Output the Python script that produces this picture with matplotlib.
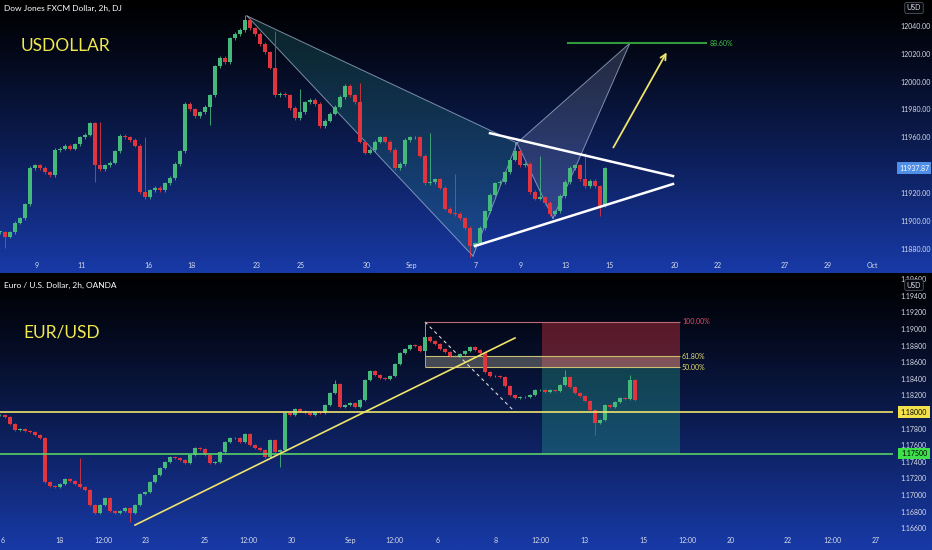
import numpy as np
import matplotlib.pyplot as plt
from matplotlib import transforms
from matplotlib.patches import Polygon, Rectangle

plt.rcParams['font.family'] = ['Lato', 'DejaVu Sans']

W, H = 932, 550

# ---------------- Dow Jones FXCM Dollar (2h, one candle = 2 bars)
dj_close = [11892, 11889, 11892, 11899, 11902, 11912, 11938, 11940, 11938, 11935,
            11933, 11951, 11952, 11954, 11952, 11955, 11960, 11962, 11970, 11940,
            11937, 11940, 11942, 11950, 11961, 11960, 11958, 11954, 11921, 11917,
            11922, 11924, 11922, 11927, 11931, 11941, 11950, 11984, 11980, 11975,
            11978, 11982, 11990, 12011, 12017, 12014, 12031, 12034, 12037, 12044,
            12038, 12034, 12027, 12021, 12010, 11990, 11991, 11990, 11981, 11974,
            11978, 11985, 11987, 11984, 11968, 11972, 11977, 11982, 11989, 11997,
            11990, 11985, 11957, 11949, 11951, 11957, 11960, 11957, 11951, 11938,
            11941, 11958, 11960, 11960, 11947, 11927, 11928, 11930, 11924, 11909,
            11906, 11905, 11902, 11895, 11882, 11884, 11895, 11907, 11919, 11927,
            11928, 11935, 11944, 11950, 11940, 11941, 11921, 11916, 11917, 11913,
            11905, 11907, 11918, 11928, 11938, 11940, 11930, 11925, 11929, 11925,
            11911, 11937.87]
dj_high_spikes = {20: 11971, 29: 11960, 49: 12048, 55: 12036, 60: 11995, 72: 11999,
                  86: 11963, 91: 11934, 103: 11957, 108: 11947, 117: 11949}
dj_low_spikes = {1: 11881, 19: 11928, 42: 11969, 94: 11874, 120: 11904}
dj_price_ticks = [11880, 11900, 11920, 11940, 11960, 11980, 12000, 12020, 12040]
dj_time_labels = ['9', '11', '16', '18', '23', '25', '30', 'Sep', '7', '9', '13', '15',
                  '20', '22', '27', '29', 'Oct']
dj_time_pos = [7.4, 16.2, 29.6, 38.2, 51.4, 60.2, 73.4, 82.2, 95.2, 104.2, 113.0, 121.8,
               135.0, 143.6, 157.0, 165.6, 174.4]
# harmonic pattern points X, A, B, C, D
pat_x = [49.4, 94.6, 103.4, 110.6, 126.0]
pat_y = [12047, 11875, 11956, 11902, 12027.6]
tri_upper = ([98, 134.6], [11963, 11932.3])
tri_lower = ([95, 134.6], [11882.2, 11926.6])
target_line = ([113.4, 141.4], 12027.6)
arrow_pts = ([122.4, 133.6], [11951, 12022.6])

# ---------------- EUR/USD
eu_close = [1.17964, 1.17940, 1.17855, 1.17783, 1.17795, 1.17771, 1.17759, 1.17723, 1.17687, 1.17157,
            1.17108, 1.17096, 1.17132, 1.17193, 1.17169, 1.17132, 1.17096, 1.17060, 1.16879, 1.16783,
            1.16879, 1.16964, 1.16807, 1.16783, 1.16807, 1.16843, 1.16783, 1.16879, 1.17012, 1.17036,
            1.17157, 1.17241, 1.17325, 1.17398, 1.17458, 1.17446, 1.17422, 1.17386, 1.17482, 1.17566,
            1.17554, 1.17482, 1.17386, 1.17398, 1.17518, 1.17639, 1.17687, 1.17687, 1.17639, 1.17735,
            1.17602, 1.17566, 1.17542, 1.17458, 1.17663, 1.17518, 1.17542, 1.17988, 1.17964, 1.18036,
            1.18012, 1.17988, 1.17964, 1.18000, 1.17988, 1.18084, 1.18229, 1.18337, 1.18060, 1.18084,
            1.18108, 1.18060, 1.18145, 1.18386, 1.18494, 1.18446, 1.18410, 1.18398, 1.18434, 1.18578,
            1.18711, 1.18759, 1.18807, 1.18795, 1.18735, 1.18904, 1.18856, 1.18819, 1.18759, 1.18723,
            1.18675, 1.18675, 1.18699, 1.18735, 1.18783, 1.18747, 1.18711, 1.18482, 1.18434, 1.18434,
            1.18422, 1.18313, 1.18205, 1.18169, 1.18181, 1.18181, 1.18205, 1.18265, 1.18265, 1.18241,
            1.18265, 1.18253, 1.18325, 1.18422, 1.18301, 1.18229, 1.18193, 1.18133, 1.18024, 1.17867,
            1.17904, 1.18084, 1.18060, 1.18121, 1.18169, 1.18157, 1.18386, 1.18145]
eu_high_spikes = {16: 1.17446, 67: 1.18380, 85: 1.19085, 113: 1.18506, 126: 1.18446}
eu_low_spikes = {26: 1.16675, 56: 1.17337, 119: 1.17723}
eu_price_ticks = [1.166, 1.168, 1.170, 1.172, 1.174, 1.176, 1.178, 1.180, 1.182, 1.184,
                  1.186, 1.188, 1.190, 1.192, 1.194, 1.196]
eu_time_labels = ['6', '18', '12:00', '23', '25', '12:00', '30', 'Sep', '12:00', '6', '8',
                  '12:00', '13', '15', '12:00', '20', '22', '12:00', '27']
eu_time_pos = [0.6, 11.8, 20.6, 29.2, 41.0, 49.6, 58.4, 70.0, 78.8, 87.6, 99.2, 108.0,
               116.8, 128.6, 137.4, 146.2, 157.6, 166.4, 175.2]
support = 1.18000
support2 = 1.17500
trend = ([27, 103], [1.16638, 1.18892])
fib_x = [85, 136]
fib_levels = {'100.00%': 1.19085, '61.80%': 1.18670, '50.00%': 1.18542}
pos_x = [108.3, 136]
pos_stop, pos_entry, pos_target = 1.19085, 1.18542, 1.17500

UP, DN = '#45b87c', '#e0353f'
TXT = '#d8dce8'


def draw_candles(ax, closes, hi_spk, lo_spk, pad, minh):
    c = np.array(closes, dtype=float)
    o = np.r_[c[0], c[:-1]]
    x = np.arange(len(c))
    hi = np.maximum(o, c) + pad
    lo = np.minimum(o, c) - pad
    for k, v in hi_spk.items():
        hi[k] = v
    for k, v in lo_spk.items():
        lo[k] = v
    col = np.where(c >= o, UP, DN)
    ax.vlines(x, lo, hi, colors=col, lw=0.6, zorder=3)
    ax.bar(x, np.maximum(np.abs(c - o), minh), bottom=np.minimum(o, c), width=0.7,
           color=col, zorder=4)


def style_axis(ax, yt, yfmt, xt, xl):
    ax.set_facecolor('none')
    for s in ax.spines.values():
        s.set_visible(False)
    ax.yaxis.tick_right()
    ax.set_yticks(yt)
    ax.set_yticklabels([yfmt % v for v in yt])
    ax.set_xticks(xt)
    ax.set_xticklabels(xl)
    ax.tick_params(axis='both', length=0, labelcolor=TXT, labelsize=5)
    ax.tick_params(axis='y', pad=5)
    ax.tick_params(axis='x', pad=3)


def price_box(ax, y, text, fc, tc):
    tr = transforms.blended_transform_factory(ax.transAxes, ax.transData)
    ax.text(914 / 893, y, text, transform=tr, ha='center', va='center', fontsize=5,
            color=tc, clip_on=False, zorder=10,
            bbox=dict(boxstyle='square,pad=0.35', fc=fc, ec='none'))


fig = plt.figure(figsize=(W / 100, H / 100), dpi=100)

# background gradients
bg = fig.add_axes([0, 0, 1, 1], zorder=-10)
bg.set_xlim(0, W)
bg.set_ylim(H, 0)
bg.axis('off')
t = np.linspace(0, 1, 256)[:, None, None] ** 1.15
top_c = np.array([0, 0, 0]) / 255
bot_c = np.array([24, 58, 168]) / 255
grad = top_c + (bot_c - top_c) * t
bg.imshow(grad, extent=(0, W, 273, 0), aspect='auto', origin='upper')
bg.imshow(grad, extent=(0, W, 550, 273), aspect='auto', origin='upper')

# ---- top panel
ax1 = fig.add_axes([0, (H - 258) / H, 893 / W, 258 / H])
ax1.set_xlim(0, 893 / 5)
ax1.set_ylim(11873.6, 12058.4)
style_axis(ax1, dj_price_ticks, '%.2f', dj_time_pos, dj_time_labels)

X, A, B, C, D = list(zip(pat_x, pat_y))
ax1.add_patch(Polygon([X, A, B], closed=True, fc='#2a8a8a', alpha=0.25, ec='none', zorder=1))
ax1.add_patch(Polygon([B, C, D], closed=True, fc='#a8b4e0', alpha=0.2, ec='none', zorder=1))
for p, q in [(X, A), (X, B), (A, B), (B, C), (C, D), (B, D)]:
    ax1.plot([p[0], q[0]], [p[1], q[1]], color='#a8bcd8', lw=0.7, alpha=0.7, zorder=2)

draw_candles(ax1, dj_close, dj_high_spikes, dj_low_spikes, 1.2, 0.6)

ax1.plot(*tri_upper, color='white', lw=1.8, zorder=6)
ax1.plot(*tri_lower, color='white', lw=1.8, zorder=6)
ax1.hlines(target_line[1], *target_line[0], color='#2e9a3a', lw=1.5, zorder=6)
ax1.text(target_line[0][1] + 0.6, target_line[1], '88.60%', color='#3fc04a',
         fontsize=5, va='center', zorder=6)
ax1.annotate('', xy=(arrow_pts[0][1], arrow_pts[1][1]), xytext=(arrow_pts[0][0], arrow_pts[1][0]),
             arrowprops=dict(arrowstyle='->', color='#efe36b', lw=1.3, mutation_scale=10), zorder=6)
price_box(ax1, dj_close[-1], '%.2f' % dj_close[-1], '#4f8fe8', 'white')

# ---- bottom panel
ax2 = fig.add_axes([0, (H - 533) / H, 893 / W, 255 / H])
ax2.set_xlim(0, 893 / 5)
ax2.set_ylim(1.165422, 1.196145)
style_axis(ax2, eu_price_ticks, '%.5f', eu_time_pos, eu_time_labels)

ax2.add_patch(Rectangle((pos_x[0], pos_entry), pos_x[1] - pos_x[0], pos_stop - pos_entry,
                        fc='#c2303e', alpha=0.45, ec='none', zorder=1))
ax2.add_patch(Rectangle((pos_x[0], pos_target), pos_x[1] - pos_x[0], pos_entry - pos_target,
                        fc='#26a08a', alpha=0.35, ec='none', zorder=1))
ax2.fill_between(fib_x, fib_levels['50.00%'], fib_levels['61.80%'], color='#d8d0b0',
                 alpha=0.3, lw=0, zorder=1)
fib_cols = {'100.00%': '#c06878', '61.80%': '#c8c070', '50.00%': '#c8c070'}
txt_cols = {'100.00%': '#e0506a', '61.80%': '#e8dc6a', '50.00%': '#e8dc6a'}
for name, lvl in fib_levels.items():
    ax2.hlines(lvl, *fib_x, color=fib_cols[name], lw=0.8, zorder=2)
    ax2.text(fib_x[1] + 0.4, lvl, name, color=txt_cols[name], fontsize=5, va='center', zorder=6)
ax2.vlines(fib_x[0], fib_levels['50.00%'], fib_levels['100.00%'], color='#a0a0a8', lw=0.7, zorder=2)
ax2.plot([fib_x[0], trend[0][1]], [fib_levels['100.00%'], support], color='#d8d8d8', lw=0.8,
         ls=(0, (3, 3)), zorder=2)

draw_candles(ax2, eu_close, eu_high_spikes, eu_low_spikes, 0.00012, 0.00005)

ax2.axhline(support, color='#efe36b', lw=1.2, zorder=6)
ax2.axhline(support2, color='#55d066', lw=1.2, zorder=6)
ax2.plot(*trend, color='#efe36b', lw=1.2, zorder=6)
price_box(ax2, support, '%.5f' % support, '#f2e14a', 'black')
price_box(ax2, support2, '%.5f' % support2, '#3ee04a', 'black')

# ---- texts
fig.text(4 / W, 1 - 8 / H, 'Dow Jones FXCM Dollar, 2h, DJ', color='white', fontsize=6, va='center')
fig.text(4 / W, 1 - 285 / H, 'Euro / U.S. Dollar, 2h, OANDA', color='white', fontsize=6, va='center')
fig.text(21 / W, 1 - 46 / H, 'USDOLLAR', color='#f2e94e', fontsize=12.5, va='center')
fig.text(23 / W, 1 - 332 / H, 'EUR/USD', color='#f2e94e', fontsize=12.5, va='center')
for yy in (8, 285):
    fig.text(914 / W, 1 - yy / H, 'USD', color=TXT, fontsize=5, ha='center', va='center',
             bbox=dict(boxstyle='round,pad=0.3', fc='#05070d', ec='#50545e', lw=0.6))

fig.savefig('out.png', dpi=100)
